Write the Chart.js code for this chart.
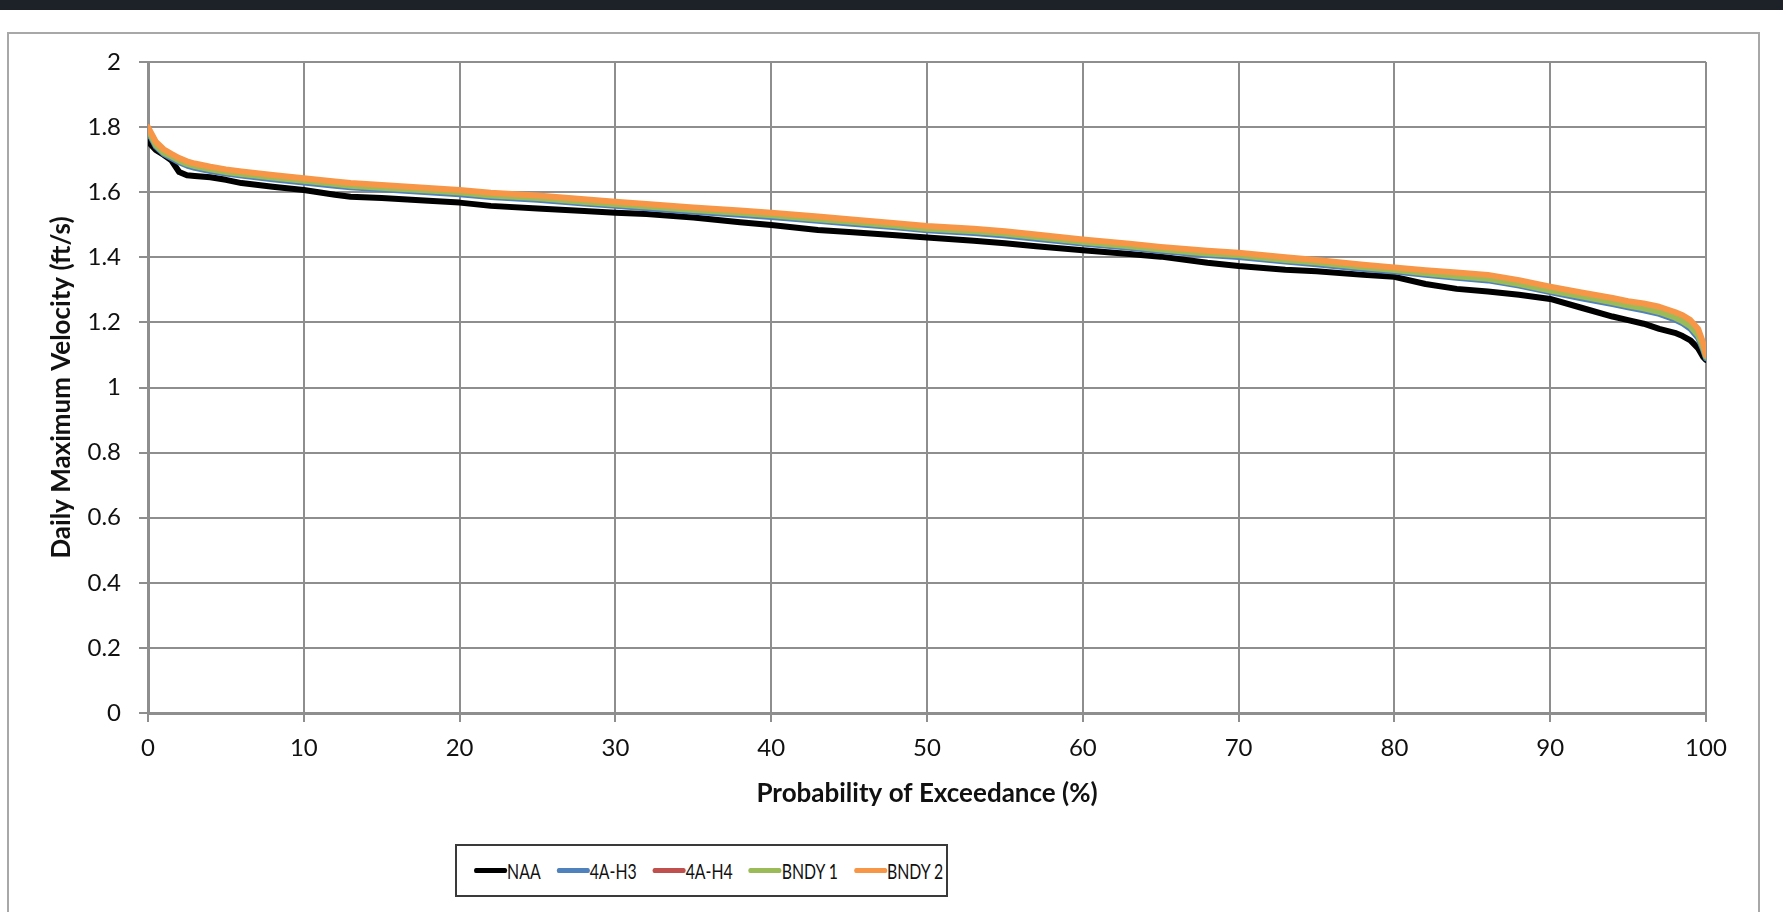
<!DOCTYPE html>
<html>
<head>
<meta charset="utf-8">
<script src="https://cdn.jsdelivr.net/npm/chart.js@4/dist/chart.umd.min.js"></script>
<style>
  html, body { margin: 0; padding: 0; background: #fff; width: 1783px; height: 912px; overflow: hidden; font-family: Lato, sans-serif; }
  #band { position: absolute; left: 0; top: 0; width: 1783px; height: 10px; background: #1c2228; }
  #frame { position: absolute; left: 7px; top: 32px; width: 1749px; height: 900px; border: 2px solid #a8a8a8; }
  #chart { position: absolute; left: 0; top: 0; }
  #legend { position: absolute; left: 455px; top: 844px; width: 493px; height: 53px; box-sizing: border-box;
            border: 2px solid #3a3a3a; background: #fff; overflow: hidden; }
  /* Calibri-like narrow look: squeeze the row horizontally */
  #legendRow { position: absolute; left: 17px; top: 0; height: 49px; width: max-content; display: flex; align-items: center;
               transform: scaleX(0.72); transform-origin: 0 50%; white-space: nowrap; }
  .item { flex: none; display: flex; align-items: center; margin-right: 22px; font-size: 22px; color: #111; }
  .swatch { width: 46px; height: 5px; border-radius: 3px; flex: none; }
</style>
</head>
<body>
<div id="band"></div>
<div id="frame"></div>
<canvas id="chart" width="1783" height="912"></canvas>
<div id="legend"><div id="legendRow"></div></div>
<script>
// probability of exceedance (%)
const probability = [0, 0.5, 1, 1.5, 2, 2.5, 3, 4, 5, 6, 8, 10, 12, 13, 15, 18, 20, 22, 25, 28, 30, 32, 35, 38, 40, 43, 45, 48, 50, 53, 55, 57, 60, 63, 65, 68, 70, 73, 75, 78, 80, 82, 84, 86, 88, 90, 92, 94, 95, 96, 97, 98, 98.5, 99, 99.5, 99.8, 100];

// daily maximum velocity (ft/s)
const naa = [1.755, 1.730, 1.715, 1.698, 1.662, 1.652, 1.650, 1.646, 1.638, 1.628, 1.617, 1.607, 1.592, 1.586, 1.582, 1.574, 1.568, 1.558, 1.550, 1.542, 1.537, 1.533, 1.522, 1.508, 1.499, 1.484, 1.478, 1.468, 1.461, 1.451, 1.443, 1.434, 1.422, 1.410, 1.402, 1.383, 1.373, 1.362, 1.357, 1.346, 1.340, 1.318, 1.303, 1.295, 1.285, 1.272, 1.245, 1.218, 1.207, 1.196, 1.180, 1.168, 1.158, 1.145, 1.120, 1.095, 1.085];
const h3 = [1.785, 1.740, 1.718, 1.705, 1.692, 1.682, 1.675, 1.665, 1.657, 1.651, 1.640, 1.630, 1.620, 1.615, 1.609, 1.600, 1.594, 1.585, 1.577, 1.565, 1.558, 1.551, 1.540, 1.531, 1.524, 1.512, 1.504, 1.492, 1.483, 1.475, 1.467, 1.457, 1.442, 1.429, 1.419, 1.407, 1.401, 1.387, 1.379, 1.364, 1.356, 1.346, 1.337, 1.329, 1.313, 1.293, 1.274, 1.256, 1.246, 1.237, 1.226, 1.209, 1.197, 1.180, 1.152, 1.118, 1.090];
const h4 = [1.796, 1.750, 1.728, 1.714, 1.701, 1.691, 1.684, 1.674, 1.666, 1.660, 1.649, 1.639, 1.629, 1.624, 1.618, 1.609, 1.603, 1.594, 1.586, 1.574, 1.567, 1.560, 1.549, 1.540, 1.533, 1.521, 1.513, 1.501, 1.492, 1.484, 1.476, 1.466, 1.451, 1.438, 1.428, 1.416, 1.410, 1.396, 1.388, 1.373, 1.365, 1.356, 1.348, 1.341, 1.325, 1.304, 1.286, 1.269, 1.259, 1.252, 1.241, 1.225, 1.214, 1.199, 1.172, 1.132, 1.098];
const bndy1 = [1.792, 1.745, 1.722, 1.710, 1.697, 1.687, 1.680, 1.670, 1.662, 1.656, 1.645, 1.635, 1.625, 1.620, 1.614, 1.605, 1.599, 1.590, 1.582, 1.570, 1.563, 1.556, 1.545, 1.536, 1.529, 1.517, 1.509, 1.497, 1.488, 1.480, 1.472, 1.462, 1.447, 1.434, 1.424, 1.412, 1.406, 1.392, 1.384, 1.369, 1.361, 1.351, 1.342, 1.334, 1.318, 1.298, 1.280, 1.262, 1.252, 1.243, 1.232, 1.215, 1.203, 1.188, 1.160, 1.125, 1.095];
const bndy2 = [1.800, 1.755, 1.732, 1.718, 1.705, 1.695, 1.688, 1.678, 1.670, 1.664, 1.653, 1.643, 1.633, 1.628, 1.622, 1.613, 1.607, 1.598, 1.590, 1.578, 1.571, 1.564, 1.553, 1.544, 1.537, 1.525, 1.517, 1.505, 1.496, 1.488, 1.480, 1.470, 1.455, 1.442, 1.432, 1.420, 1.414, 1.400, 1.392, 1.377, 1.369, 1.360, 1.353, 1.346, 1.330, 1.310, 1.292, 1.275, 1.265, 1.258, 1.248, 1.232, 1.222, 1.207, 1.180, 1.140, 1.100];

const seriesNames = ['NAA', '4A-H3', '4A-H4', 'BNDY 1', 'BNDY 2'];
const seriesColors = ['#000000', '#4f81bd', '#c0504d', '#9bbb59', '#f79646'];
const seriesValues = [naa, h3, h4, bndy1, bndy2];

const tickFont = { family: 'Lato', size: 24 };
const titleFont = { family: 'Lato', size: 26, weight: 'bold' };
const gridColor = '#8e8e8e';

const datasets = seriesNames.map(function (name, i) {
    return {
        label: name,
        data: probability.map(function (p, j) { return { x: p, y: seriesValues[i][j] }; }),
        borderColor: seriesColors[i],
        backgroundColor: seriesColors[i],
        borderWidth: 6,
        pointRadius: 0,
        tension: 0,
        borderJoinStyle: 'round',
        borderCapStyle: 'round',
        order: seriesNames.length - 1 - i // last series on top, like the original
    };
});

new Chart(document.getElementById('chart'), {
    type: 'line',
    data: { datasets: datasets },
    options: {
        responsive: false,
        animation: false,
        layout: { padding: { top: 62, right: 77, bottom: 0, left: 0 } },
        plugins: { legend: { display: false }, tooltip: { enabled: false } },
        scales: {
            x: {
                type: 'linear',
                min: 0,
                max: 100,
                afterFit: function (scale) { scale.height = 199; },
                ticks: { stepSize: 10, font: tickFont, color: '#111', padding: 12, maxRotation: 0 },
                grid: { color: gridColor, lineWidth: 2, tickLength: 9 },
                border: { color: gridColor, width: 3 },
                title: { display: true, text: 'Probability of Exceedance (%)', font: titleFont, color: '#111', padding: { bottom: 103 } }
            },
            y: {
                min: 0,
                max: 2,
                afterFit: function (scale) { scale.width = 148; },
                ticks: {
                    stepSize: 0.2,
                    font: tickFont,
                    color: '#111',
                    padding: 18,
                    callback: function (v) { return String(+v.toFixed(1)); }
                },
                grid: { color: gridColor, lineWidth: 2, tickLength: 9 },
                border: { color: gridColor, width: 3 },
                title: { display: true, text: 'Daily Maximum Velocity (ft/s)', font: titleFont, color: '#111', padding: { top: 46 } }
            }
        }
    }
});

// legend box under the chart
const legendRow = document.getElementById('legendRow');
seriesNames.forEach(function (name, i) {
    const item = document.createElement('div');
    item.className = 'item';
    const sw = document.createElement('span');
    sw.className = 'swatch';
    sw.style.background = seriesColors[i];
    item.appendChild(sw);
    item.appendChild(document.createTextNode(name));
    legendRow.appendChild(item);
});
</script>
</body>
</html>
